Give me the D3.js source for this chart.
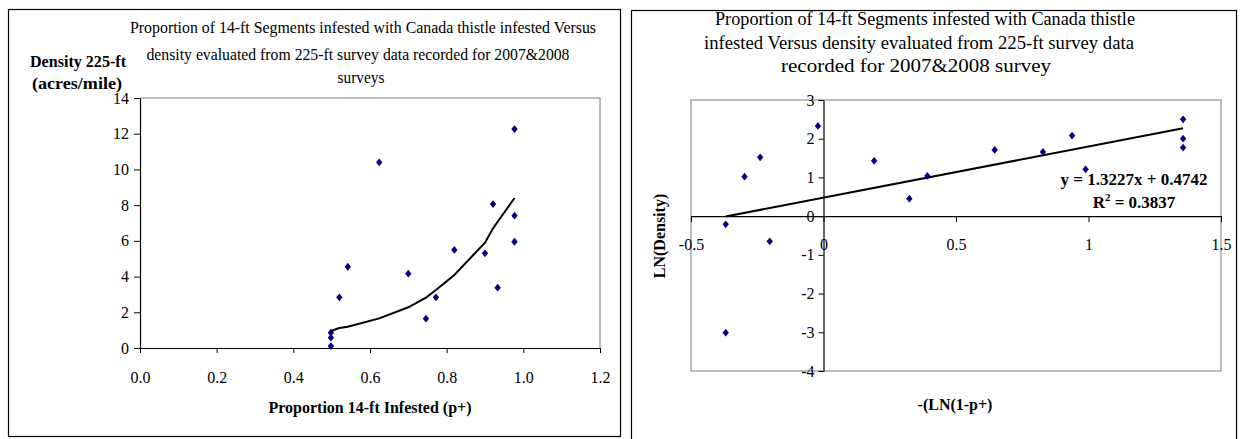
<!DOCTYPE html>
<html>
<head>
<meta charset="utf-8">
<script src="https://cdn.jsdelivr.net/npm/d3@7"></script>
<style>
  body { margin: 0; background: #fff; }
  svg { display: block; font-family: "Liberation Serif", "Times New Roman", serif; }
</style>
</head>
<body>
<svg id="chart" width="1241" height="439"></svg>
<script>
// left chart: proportion infested vs density
const pInfested = [0.498, 0.498, 0.498, 0.520, 0.542, 0.624, 0.700, 0.746, 0.772, 0.820, 0.900, 0.921, 0.933, 0.977, 0.977, 0.977];
const density   = [0.86, 0.58, 0.11, 2.84, 4.55, 10.40, 4.16, 1.64, 2.84, 5.49, 5.30, 8.06, 3.38, 7.41, 5.95, 12.26];
// fitted curve drawn as a line
const fitX = [0.498, 0.520, 0.542, 0.624, 0.700, 0.746, 0.772, 0.820, 0.900, 0.921, 0.933, 0.977];
const fitY = [0.95, 1.12, 1.19, 1.66, 2.28, 2.82, 3.25, 4.09, 5.90, 6.70, 7.07, 8.40];
const leftXTicks = [0, 0.2, 0.4, 0.6, 0.8, 1.0, 1.2];
const leftYTicks = [0, 2, 4, 6, 8, 10, 12, 14];

// right chart: -(LN(1-p+)) vs LN(Density)
const lnP = [-0.369, -0.369, -0.298, -0.239, -0.203, -0.021, 0.191, 0.324, 0.392, 0.646, 0.828, 0.938, 0.989, 1.357, 1.357, 1.357];
const lnD = [-0.21, -3.01, 1.02, 1.52, -0.65, 2.33, 1.43, 0.45, 1.04, 1.71, 1.66, 2.08, 1.21, 2.50, 2.00, 1.77];
const trendX = [-0.369, 1.357];
const trendY = [-0.01, 2.27];
const rightXTicks = [-0.5, 0, 0.5, 1, 1.5];
const rightYTicks = [-4, -3, -2, -1, 0, 1, 2, 3];

const leftTitle = [
  "Proportion of 14-ft Segments infested with Canada thistle infested Versus",
  "density evaluated from 225-ft survey data recorded for 2007&2008",
  "surveys"
];
const rightTitle = [
  "Proportion of 14-ft Segments infested with Canada thistle",
  "infested Versus density evaluated from 225-ft survey data",
  "recorded for 2007&2008 survey"
];

const svg = d3.select("#chart");
const navy = "#000080";
const frame = "#a6a6a6";

// diamond marker, slightly taller than wide
const diamond = {
  draw(ctx, size) {
    const w = Math.sqrt(size) * 0.45, h = Math.sqrt(size) * 0.55;
    ctx.moveTo(0, -h); ctx.lineTo(w, 0); ctx.lineTo(0, h); ctx.lineTo(-w, 0); ctx.closePath();
  }
};
const marker = d3.symbol().type(diamond).size(50);

function fit(sel, w) {
  sel.attr("textLength", w).attr("lengthAdjust", "spacingAndGlyphs");
}

function styleAxis(g) {
  g.attr("font-family", null).attr("font-size", 16);
  g.select(".domain").attr("stroke", "#000").attr("stroke-width", 1.2);
  g.selectAll(".tick line").attr("stroke", "#000");
  g.selectAll("text").attr("fill", "#000");
}

// panel frames
svg.append("rect").attr("x", 8.5).attr("y", 9.5).attr("width", 612).attr("height", 427)
  .attr("fill", "none").attr("stroke", "#000").attr("stroke-width", 1.2);
svg.append("rect").attr("x", 631.5).attr("y", 10.5).attr("width", 605).attr("height", 440)
  .attr("fill", "none").attr("stroke", "#000").attr("stroke-width", 1.2);

// ---------- left chart ----------
const x1 = d3.scaleLinear().domain([0, 1.2]).range([140, 600]);
const y1 = d3.scaleLinear().domain([0, 14]).range([348, 98]);

svg.append("path")
  .attr("d", `M${x1(0)},${y1(14)}H${x1(1.2)}V${y1(0)}`)
  .attr("fill", "none").attr("stroke", frame).attr("stroke-width", 1.5);

svg.append("g").attr("transform", `translate(0,${y1(0)})`)
  .call(d3.axisBottom(x1).tickValues(leftXTicks).tickSize(5).tickSizeOuter(0).tickPadding(19)
    .tickFormat(d3.format(".1f")))
  .call(styleAxis);
svg.append("g").attr("transform", `translate(${x1(0)},0)`)
  .call(d3.axisLeft(y1).tickValues(leftYTicks).tickSize(6).tickSizeOuter(0).tickPadding(5))
  .call(styleAxis);

svg.append("path")
  .datum(fitX.map((d, i) => [d, fitY[i]]))
  .attr("fill", "none").attr("stroke", "#000").attr("stroke-width", 2)
  .attr("d", d3.line().x(d => x1(d[0])).y(d => y1(d[1])));

svg.append("g").selectAll("path")
  .data(pInfested.map((d, i) => [d, density[i]]))
  .join("path")
  .attr("transform", d => `translate(${x1(d[0])},${y1(d[1])})`)
  .attr("d", marker).attr("fill", navy);

const lt = svg.append("g").attr("font-size", 16).attr("text-anchor", "middle");
[[363, 33, 466], [358, 60, 423], [361, 83, 47]].forEach(([cx, by, w], i) => {
  lt.append("text").attr("x", cx).attr("y", by).text(leftTitle[i]).call(fit, w);
});

svg.append("text").attr("x", 78).attr("y", 67).attr("font-size", 16).attr("font-weight", "bold")
  .attr("text-anchor", "middle").text("Density 225-ft").call(fit, 96);
svg.append("text").attr("x", 77).attr("y", 89).attr("font-size", 16).attr("font-weight", "bold")
  .attr("text-anchor", "middle").text("(acres/mile)").call(fit, 90);
svg.append("text").attr("x", 370).attr("y", 413).attr("font-size", 16).attr("font-weight", "bold")
  .attr("text-anchor", "middle").text("Proportion 14-ft Infested (p+)");

// ---------- right chart ----------
const x2 = d3.scaleLinear().domain([-0.5, 1.5]).range([691, 1221]);
const y2 = d3.scaleLinear().domain([-4, 3]).range([371, 100]);

svg.append("rect").attr("x", x2(-0.5)).attr("y", y2(3))
  .attr("width", x2(1.5) - x2(-0.5)).attr("height", y2(-4) - y2(3))
  .attr("fill", "none").attr("stroke", frame).attr("stroke-width", 1.5);

const gx2 = svg.append("g").attr("transform", `translate(0,${y2(0)})`)
  .call(d3.axisBottom(x2).tickValues(rightXTicks).tickSize(6).tickSizeOuter(0).tickPadding(16)
    .tickFormat(d3.format("")))
  .call(styleAxis);
const gy2 = svg.append("g").attr("transform", `translate(${x2(0)},0)`)
  .call(d3.axisLeft(y2).tickValues(rightYTicks).tickSize(5).tickSizeOuter(0).tickPadding(4))
  .call(styleAxis);
gx2.selectAll(".tick text").text(d => d < 0 ? "-" + Math.abs(d) : d);
gy2.selectAll(".tick text").text(d => d < 0 ? "-" + Math.abs(d) : d);

svg.append("path")
  .datum(trendX.map((d, i) => [d, trendY[i]]))
  .attr("fill", "none").attr("stroke", "#000").attr("stroke-width", 2)
  .attr("d", d3.line().x(d => x2(d[0])).y(d => y2(d[1])));

svg.append("g").selectAll("path")
  .data(lnP.map((d, i) => [d, lnD[i]]))
  .join("path")
  .attr("transform", d => `translate(${x2(d[0])},${y2(d[1])})`)
  .attr("d", marker).attr("fill", navy);

const rt = svg.append("g").attr("font-size", 18).attr("text-anchor", "middle");
[[925, 25, 420], [919, 49, 430], [916, 72, 270]].forEach(([cx, by, w], i) => {
  rt.append("text").attr("x", cx).attr("y", by).text(rightTitle[i]).call(fit, w);
});

const eq = svg.append("g").attr("font-size", 17).attr("font-weight", "bold").attr("text-anchor", "middle");
eq.append("text").attr("x", 1134).attr("y", 185).text("y = 1.3227x + 0.4742");
const r2 = eq.append("text").attr("x", 1134).attr("y", 208);
r2.append("tspan").text("R");
r2.append("tspan").attr("font-size", 11).attr("dy", -7).text("2");
r2.append("tspan").attr("dy", 7).text(" = 0.3837");

svg.append("text").attr("transform", "translate(665,236) rotate(-90)")
  .attr("font-size", 16).attr("font-weight", "bold").attr("text-anchor", "middle")
  .text("LN(Density)");
svg.append("text").attr("x", 955).attr("y", 410).attr("font-size", 16).attr("font-weight", "bold")
  .attr("text-anchor", "middle").text("-(LN(1-p+)");
</script>
</body>
</html>
